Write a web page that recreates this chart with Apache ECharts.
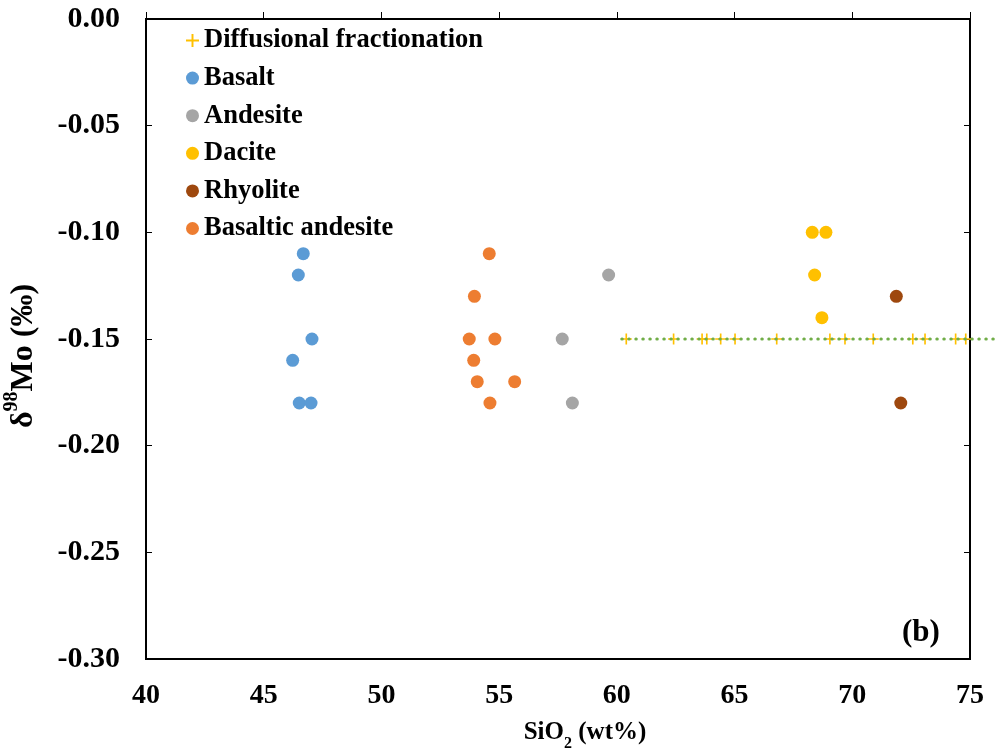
<!DOCTYPE html>
<html>
<head>
<meta charset="utf-8">
<script src="https://cdn.jsdelivr.net/npm/echarts@6/dist/echarts.min.js"></script>
<style>html,body{margin:0;padding:0;background:#fff;}#c{width:998px;height:754px;}</style>
</head>
<body>
<div id="c"></div>
<script>
// ---- data ----
const xTicks = [40, 45, 50, 55, 60, 65, 70, 75];
const yTicks = [0, -0.05, -0.10, -0.15, -0.20, -0.25, -0.30];

const diffusionX = [60.40, 62.41, 63.62, 63.82, 64.41, 65.02, 66.79, 69.05, 69.69, 70.89, 72.57, 73.09, 74.39, 74.82];
const diffusionY = -0.15;
const diffusionLineX = [60.21, 76.19];

const basaltX = [46.68, 46.47, 47.05, 46.23, 46.51, 47.01];
const basaltY = [-0.11, -0.12, -0.15, -0.16, -0.18, -0.18];

const andesiteX = [59.65, 57.68, 58.11];
const andesiteY = [-0.12, -0.15, -0.18];

const daciteX = [68.30, 68.88, 68.40, 68.71];
const daciteY = [-0.10, -0.10, -0.12, -0.14];

const rhyoliteX = [71.87, 72.06];
const rhyoliteY = [-0.13, -0.18];

const basAndX = [54.58, 53.95, 53.73, 54.82, 53.92, 54.07, 55.66, 54.61];
const basAndY = [-0.11, -0.13, -0.15, -0.15, -0.16, -0.17, -0.17, -0.18];

const seriesNames = ['Diffusional fractionation', 'Basalt', 'Andesite', 'Dacite', 'Rhyolite', 'Basaltic andesite'];

// ---- build ----
const zip = (xs, ys) => xs.map((x, i) => [x, Array.isArray(ys) ? ys[i] : ys]);
const FONT = "'Liberation Serif', 'Times New Roman', serif";
const plus = 'path://M4.25,0h1.5v4.25h4.25v1.5h-4.25v4.25h-1.5v-4.25h-4.25v-1.5h4.25z';

function dots(name, xs, ys, color) {
  return { name, type: 'scatter', data: zip(xs, ys), symbol: 'circle', symbolSize: 13,
    itemStyle: { color, opacity: 1 }, z: 3 };
}

const xMin = xTicks[0], xMax = xTicks[xTicks.length - 1];
const yMin = yTicks[yTicks.length - 1], yMax = yTicks[0];

const chart = echarts.init(document.getElementById('c'), null, { renderer: 'canvas' });
chart.setOption({
  animation: false,
  backgroundColor: '#fff',
  grid: [
    { left: 146, right: 28, top: 19, bottom: 95, show: true, borderColor: '#000', borderWidth: 2,
      containLabel: false, outerBoundsMode: 'none' },
    { left: 146, right: 0, top: 19, bottom: 95, show: false, containLabel: false, outerBoundsMode: 'none' }
  ],
  legend: {
    orient: 'vertical', left: 186, top: 27, itemWidth: 13, itemHeight: 13, itemGap: 10.6,
    padding: 0, data: seriesNames,
    textStyle: { fontFamily: FONT, fontWeight: 'bold', fontSize: 26.5, color: '#000', lineHeight: 26 }
  },
  xAxis: [{
    type: 'value', min: xMin, max: xMax, interval: 5, gridIndex: 0,
    axisLine: { lineStyle: { color: '#000', width: 2 } },
    axisTick: { inside: true, length: 7, lineStyle: { color: '#000', width: 1 } },
    splitLine: { show: false },
    axisLabel: { fontFamily: FONT, fontWeight: 'bold', fontSize: 28, color: '#000', margin: 23 },
    name: '{a|SiO}{s|2}{a| (wt%)}', nameLocation: 'middle', nameGap: 61,
    nameTextStyle: { padding: [0, 0, 0, 54],
      rich: { a: { fontFamily: FONT, fontWeight: 'bold', fontSize: 25, color: '#000' },
              s: { fontFamily: FONT, fontWeight: 'bold', fontSize: 16, color: '#000', verticalAlign: 'bottom', padding: [0, 0, -7, 0] } } }
  }, {
    // same scale as the main axis, extended to the right page edge (trend line runs past the frame)
    type: 'value', gridIndex: 1, min: xMin, max: xMin + (xMax - xMin) * 852 / 824, show: false
  }],
  yAxis: [{
    type: 'value', min: yMin, max: yMax, interval: 0.05, gridIndex: 0,
    axisLine: { lineStyle: { color: '#000', width: 2 } },
    axisTick: { inside: true, length: 6, lineStyle: { color: '#000', width: 1 } },
    splitLine: { show: false },
    axisLabel: { fontFamily: FONT, fontWeight: 'bold', fontSize: 30, color: '#000', margin: 26,
      formatter: v => (Math.abs(v) < 1e-9 ? '0.00' : v.toFixed(2)) },
    name: '{a|δ}{s|98}{a|Mo (‰)}', nameLocation: 'middle', nameGap: 106, nameRotate: 90,
    nameTextStyle: { padding: [0, 34, 0, 0],
      rich: { a: { fontFamily: FONT, fontWeight: 'bold', fontSize: 32, color: '#000' },
              s: { fontFamily: FONT, fontWeight: 'bold', fontSize: 20, color: '#000', verticalAlign: 'top', padding: [-6, 0, 0, 0] } } }
  }, {
    type: 'value', position: 'right', gridIndex: 0, min: yMin, max: yMax, interval: 0.05,
    axisLine: { show: true, lineStyle: { color: '#000', width: 2 } },
    axisTick: { inside: true, length: 6, lineStyle: { color: '#000', width: 1 } },
    axisLabel: { show: false }, splitLine: { show: false }
  }, {
    type: 'value', gridIndex: 1, min: yMin, max: yMax, show: false
  }],
  graphic: [{
    type: 'text', left: 902, top: 617,
    style: { text: '(b)', fontFamily: FONT, fontWeight: 'bold', fontSize: 31, fill: '#000' }
  }],
  series: [
    { name: seriesNames[0], type: 'scatter', data: diffusionX.map(x => [x, diffusionY]),
      symbol: plus, symbolSize: 11, itemStyle: { color: '#FFC000', opacity: 1 }, z: 3 },
    dots(seriesNames[1], basaltX, basaltY, '#5B9BD5'),
    dots(seriesNames[2], andesiteX, andesiteY, '#A5A5A5'),
    dots(seriesNames[3], daciteX, daciteY, '#FFC000'),
    dots(seriesNames[4], rhyoliteX, rhyoliteY, '#9E480E'),
    dots(seriesNames[5], basAndX, basAndY, '#ED7D31'),
    { name: 'trend', type: 'line', xAxisIndex: 1, yAxisIndex: 2,
      data: diffusionLineX.map(x => [x, diffusionY]), clip: false,
      symbol: 'none', lineStyle: { color: '#70AD47', width: 3, type: [0.5, 6.5], cap: 'round' }, z: 4,
      silent: true }
  ]
});
</script>
</body>
</html>
